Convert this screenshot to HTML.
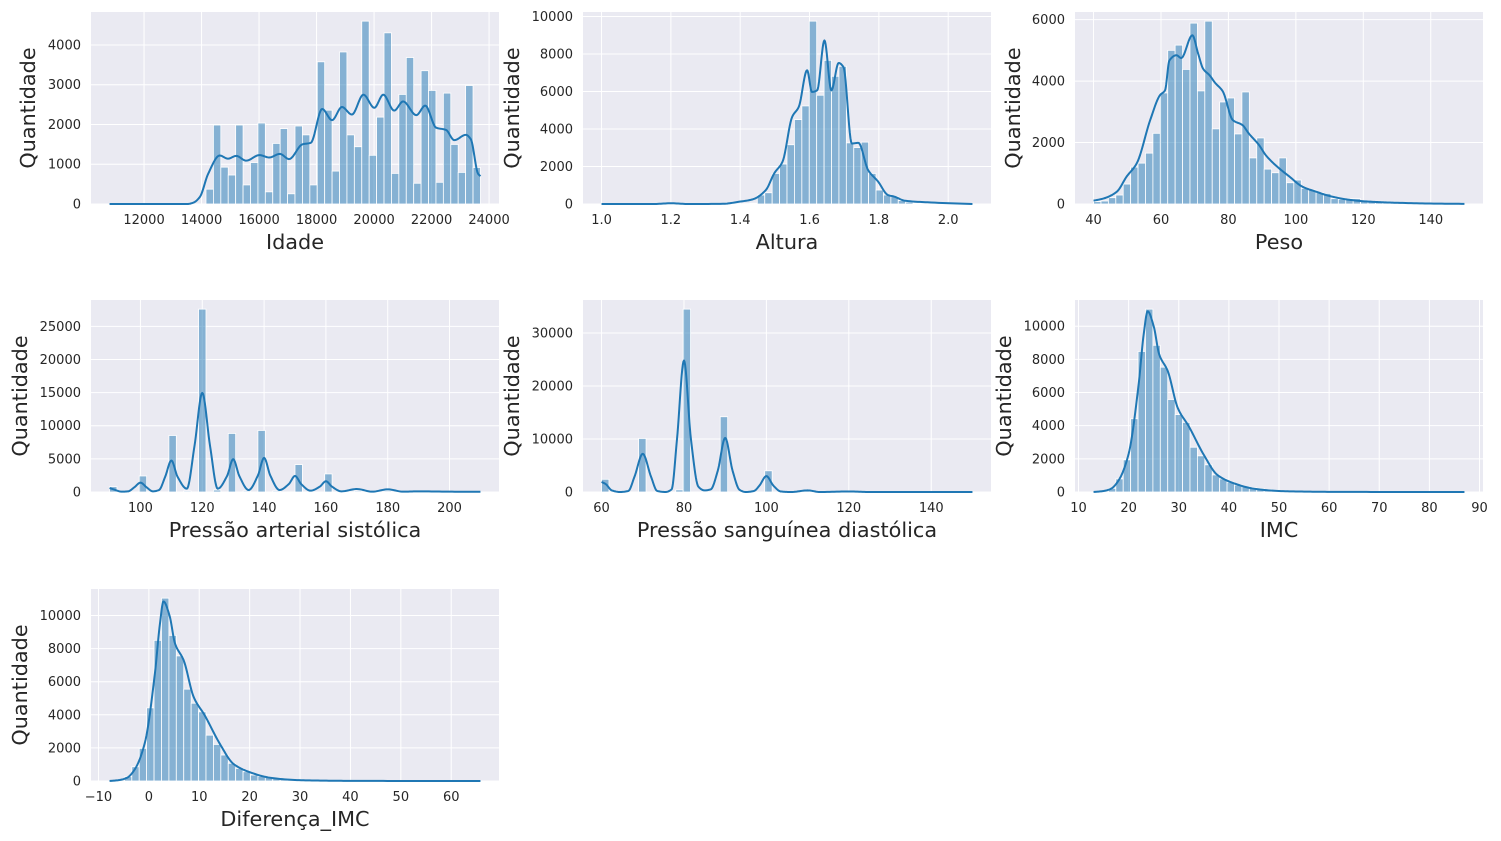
<!DOCTYPE html>
<html><head><meta charset="utf-8">
<style>
html,body{margin:0;padding:0;background:#fff;}
svg{display:block;font-family:"DejaVu Sans","Liberation Sans",sans-serif;}
.tick{font-size:13px;fill:#262626;}
.lab{font-size:20.8px;fill:#262626;}
</style></head>
<body>
<svg id="fig" width="1501" height="841" viewBox="0 0 1501 841"></svg>
<script>
// ---------- data ----------
const p1Counts=[0,0,0,0,0,0,0,0,0,0,0,0,0,373,1987,927,729,1987,480,1043,2037,306,1524,1896,257,1962,1739,480,3577,2360,828,3825,1739,1441,4600,1225,2186,4306,770,2757,3685,522,3353,2857,546,2790,1499,795,2981,919];
const p1KdeX=[10800,13500,13713,13943,14230,14632,14920,15206,15551,16011,16356,16723,17045,17505,17800,18194,18539,18883,19228,19630,20009,20320,20699,21009,21469,21779,22158,22503,22790,23192,23364,23617,23700];
const p1KdeY=[0,0,33,180,760,1220,1140,1210,1090,1230,1170,1260,1130,1500,1540,2390,2110,2440,2250,2750,2420,2750,2350,2580,2235,2475,1920,1863,1606,1740,1630,762,700];
const p1Ticks=[12000,14000,16000,18000,20000,22000,24000];
const p1YTicks=[0,1000,2000,3000,4000];

const p2Counts=[0,0,0,0,0,0,0,0,0,40,0,0,0,0,0,0,0,0,10,20,40,480,600,1630,2130,3160,4500,5230,9750,5800,7660,6810,7340,3260,3010,3300,1630,745,480,390,180,100,40,20,10,5,0,0,0,0];
const p2KdeX=[1.0,1.15,1.2,1.25,1.35,1.398,1.436,1.474,1.498,1.522,1.55,1.569,1.593,1.607,1.622,1.643,1.663,1.684,1.698,1.722,1.741,1.769,1.798,1.826,1.845,1.874,1.94,2.07];
const p2KdeY=[0,0,40,0,10,124,248,745,1630,2250,4650,5180,7130,5975,6060,8720,6060,7520,7300,3225,3260,1810,1190,480,390,180,90,0];
const p2Ticks=[1.0,1.2,1.4,1.6,1.8,2.0];
const p2YTicks=[0,2000,4000,6000,8000,10000];

const p3Counts=[76,97,205,292,649,1200,1330,1655,2300,3614,5000,5170,4380,5885,3680,5950,2445,3320,3450,2280,3646,1500,2150,1136,1017,1500,692,780,508,454,368,346,173,151,173,173,108,87,87,76,65,40,30,25,20,15,10,8,5,5];
const p3KdeX=[40,43,46.9,49.8,52.8,56.8,59.7,61.2,62.5,64.6,66,69.3,71,72.5,74.4,76,78.3,81.3,84.2,86,89.1,91,94,98,102,106,110,115,120,125,130,140,150];
const p3KdeY=[108,180,400,890,1320,2730,3540,3700,4670,4840,4750,5490,4900,4400,4190,3950,3670,2730,2565,2300,1915,1600,1260,900,560,400,260,150,90,60,40,15,5];
const p3Ticks=[40,60,80,100,120,140];
const p3YTicks=[0,2000,4000,6000];

const p4Counts=[800,50,0,0,2420,30,0,0,8530,0,150,0,27600,0,300,0,8840,0,150,0,9290,0,150,0,20,4140,0,0,0,2730,0,0,0,150,0,0,0,150,0,0,0,60,0,0,0,30,0,0,0,20];
const p4KdeX=[90,91,94,96,98,100,102,104,106,108,110,112,115,117.5,120,122.5,125,128,130,132,135,138,140,142,145,148,150,152,155,158,160,162,165,170,175,180,185,190,200,210];
const p4KdeY=[600,450,50,100,700,1410,700,100,300,2300,4750,2300,500,7000,14950,7000,500,2400,4950,2400,300,2500,5150,2500,300,1200,2420,1200,200,800,1620,800,100,450,50,400,50,100,50,30];
const p4Ticks=[100,120,140,160,180,200];
const p4YTicks=[0,5000,10000,15000,20000,25000];

const p5Counts=[2400,0,0,0,0,10100,0,0,0,0,400,34500,0,0,0,0,14200,0,0,0,0,0,4000,0,0,0,0,300,0,0,0,0,0,100,0,0,0,0,0,0,0,0,0,0,0,0,0,0,0,0];
const p5KdeX=[60,61,62.5,64.5,66.5,68,70,72,73.5,75.5,77,78.3,80,81.7,83.5,85,86.5,88.2,90,91.8,93.5,95,97,98.3,100,101.7,103.5,106,110,113,120,125,150];
const p5KdeY=[1900,1500,300,0,200,2900,7200,2900,200,0,500,9900,24800,9900,1000,300,500,4000,10200,4000,400,0,200,1200,3000,1200,100,0,300,0,100,0,0];
const p5Ticks=[60,80,100,120,140];
const p5YTicks=[0,10000,20000,30000];

const p6Counts=[20,60,220,790,1940,4420,8480,11030,8850,7530,5580,4670,4200,2700,2180,1640,1030,790,590,420,320,260,220,160,120,90,70,50,40,30,25,20,15,12,10,8,6,5,4,3,3,2,2,2,1,1,1,1,1,1];
const p6KdeX=[13,15,16.5,18,20,22,23,23.8,25,26.1,27.8,29.8,32,35,37.7,41,45,50,55,60,70,87];
const p6KdeY=[0,60,200,700,2300,6500,9500,10900,10000,8300,7300,5070,3960,2240,1030,525,200,60,25,10,3,0];
const p6Ticks=[10,20,30,40,50,60,70,80,90];
const p6YTicks=[0,2000,4000,6000,8000,10000];

const p7Counts=[20,60,260,860,1970,4420,8500,11050,8800,7560,5550,4700,4180,2770,2210,1570,1070,760,560,360,280,220,170,130,100,80,60,45,35,28,22,18,14,11,9,7,6,5,4,3,3,2,2,2,1,1,1,1,1,1];
const p7KdeX=[-7.8,-5.8,-4.3,-2.8,-0.8,1.2,2.2,2.9,4.1,5.2,6.9,8.9,11.1,14.1,16.8,20.1,24,29,34,39,49,65.8];
const p7KdeY=[0,60,200,700,2300,6500,9500,10850,10000,8300,7300,5070,3960,2240,1030,525,200,60,25,10,3,0];
const p7Ticks=[-10,0,10,20,30,40,50,60];
const p7YTicks=[0,2000,4000,6000,8000,10000];

// ---------- layout ----------
const W=408,H=192;
const plots=[
 {name:'idade',left:91,top:12,x0:10800,x1:23700,counts:p1Counts,kx:p1KdeX,ky:p1KdeY,ticks:p1Ticks,yticks:p1YTicks,label:'Idade',ylabX:28,fmt:v=>String(v)},
 {name:'altura',left:583,top:12,x0:1.0,x1:2.07,counts:p2Counts,kx:p2KdeX,ky:p2KdeY,ticks:p2Ticks,yticks:p2YTicks,label:'Altura',ylabX:512,fmt:v=>v.toFixed(1)},
 {name:'peso',left:1075,top:12,x0:40,x1:150,counts:p3Counts,kx:p3KdeX,ky:p3KdeY,ticks:p3Ticks,yticks:p3YTicks,label:'Peso',ylabX:1013,fmt:v=>String(v)},
 {name:'pressao-sistolica',left:91,top:300,x0:90,x1:210,counts:p4Counts,kx:p4KdeX,ky:p4KdeY,ticks:p4Ticks,yticks:p4YTicks,label:'Pressão arterial sistólica',ylabX:20,fmt:v=>String(v)},
 {name:'pressao-diastolica',left:583,top:300,x0:60,x1:150,counts:p5Counts,kx:p5KdeX,ky:p5KdeY,ticks:p5Ticks,yticks:p5YTicks,label:'Pressão sanguínea diastólica',ylabX:512,fmt:v=>String(v)},
 {name:'imc',left:1075,top:300,x0:13,x1:87,counts:p6Counts,kx:p6KdeX,ky:p6KdeY,ticks:p6Ticks,yticks:p6YTicks,label:'IMC',ylabX:1004,fmt:v=>String(v)},
 {name:'diferenca-imc',left:91,top:589,x0:-7.8,x1:65.8,counts:p7Counts,kx:p7KdeX,ky:p7KdeY,ticks:p7Ticks,yticks:p7YTicks,label:'Diferença_IMC',ylabX:20,fmt:v=>String(v).replace('-','−')}
];

const NS='http://www.w3.org/2000/svg';
const svg=document.getElementById('fig');
function mk(tag,attrs,parent){const e=document.createElementNS(NS,tag);for(const k in attrs)e.setAttribute(k,attrs[k]);(parent||svg).appendChild(e);return e;}

function monotone(xs,ys){
 const n=xs.length,d=[],m=new Array(n);
 for(let i=0;i<n-1;i++)d.push((ys[i+1]-ys[i])/(xs[i+1]-xs[i]));
 m[0]=d[0];m[n-1]=d[n-2];
 for(let i=1;i<n-1;i++){m[i]=(d[i-1]*d[i]<=0)?0:(3*(xs[i+1]-xs[i-1]))/((2*xs[i+1]-xs[i]-xs[i-1])/d[i-1]+(xs[i+1]+xs[i]-2*xs[i-1])/d[i]);}
 const out=[];
 for(let i=0;i<n-1;i++){const h=xs[i+1]-xs[i];for(let s=0;s<12;s++){const t=s/12,t2=t*t,t3=t2*t;
  const y=(2*t3-3*t2+1)*ys[i]+(t3-2*t2+t)*h*m[i]+(-2*t3+3*t2)*ys[i+1]+(t3-t2)*h*m[i+1];
  out.push([xs[i]+t*h,Math.max(0,y)]);}}
 out.push([xs[n-1],ys[n-1]]);return out;
}

plots.forEach(p=>{
 const g=mk('g',{});
 
 
 const span=p.x1-p.x0, xl=p.x0-0.05*span, xr=p.x1+0.05*span;
 const ymax=Math.max(...p.counts,...p.ky)*1.05;
 const sx=v=>p.left+(v-xl)/(xr-xl)*W;
 const sy=v=>p.top+H-(v/ymax)*H;
 const bg=mk('rect',{x:p.left,y:p.top,width:W,height:H,fill:'#eaeaf2'},g);
 
 
 p.ticks.forEach(t=>{const x=sx(t);if(x<p.left-1||x>p.left+W+1)return;
  const l=mk('line',{x1:x,x2:x,y1:p.top,y2:p.top+H,stroke:'#fff','stroke-width':1},g);
  
  
  const tx=mk('text',{x:x,y:p.top+H+20,'text-anchor':'middle',class:'tick'},g);tx.textContent=p.fmt(t);
  
  
 });
 p.yticks.forEach(t=>{const y=sy(t);
  const l=mk('line',{x1:p.left,x2:p.left+W,y1:y,y2:y,stroke:'#fff','stroke-width':1},g);
  
  
  const tx=mk('text',{x:p.left-10,y:y+4.5,'text-anchor':'end',class:'tick'},g);tx.textContent=String(t);
  
  
 });
 const bw=span/p.counts.length;
 p.counts.forEach((c,i)=>{if(c<=0)return;
  const xa=sx(p.x0+i*bw),xb=sx(p.x0+(i+1)*bw);
  const r=mk('rect',{x:xa,y:sy(c),width:xb-xa,height:sy(0)-sy(c),fill:'rgba(31,119,180,0.5)',stroke:'#fff','stroke-width':0.8},g);
  
  
 });
 const pts=monotone(p.kx,p.ky);
 const path=mk('path',{d:pts.map((q,i)=>(i?'L':'M')+sx(q[0]).toFixed(2)+','+sy(q[1]).toFixed(2)).join(''),fill:'none',stroke:'#1f77b4','stroke-width':2,'stroke-linejoin':'round'},g);
 
 
 const xlab=mk('text',{x:p.left+W/2,y:p.top+H+45,'text-anchor':'middle',class:'lab'},g);xlab.textContent=p.label;
 
 
 const cy=p.top+H/2;
 const ylab=mk('text',{x:p.ylabX+7,y:cy,'text-anchor':'middle',class:'lab',transform:`rotate(-90 ${p.ylabX+7} ${cy})`},g);ylab.textContent='Quantidade';
 
 
});
</script>
</body></html>
